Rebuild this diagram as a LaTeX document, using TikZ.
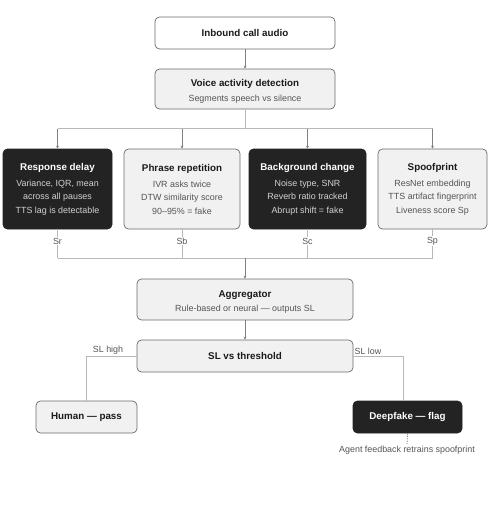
\documentclass[tikz,border=0pt]{standalone}
\usepackage{fontspec}
\setmainfont{Liberation Sans}
\usetikzlibrary{arrows.meta}
\definecolor{darkfill}{HTML}{232323}
\definecolor{lightfill}{HTML}{F1F1F1}
\definecolor{boxline}{HTML}{6B6B6B}
\definecolor{txt}{HTML}{1A1A1A}
\definecolor{subtxt}{HTML}{555555}
\definecolor{darksub}{HTML}{D2D2D2}
\definecolor{conn}{HTML}{808080}
\definecolor{busline}{HTML}{B8B8B8}
\tikzset{
  base/.style={rounded corners=4.5pt, align=center, inner sep=0pt, text=txt,
    font=\fontsize{8.9}{13.5}\selectfont},
  lightbox/.style={base, draw=boxline, line width=0.7pt, fill=lightfill},
  whitebox/.style={base, draw=boxline, line width=0.7pt, fill=white},
  darkbox/.style={base, draw=darkfill, line width=0.7pt, fill=darkfill, text=white},
  arr/.style={draw=conn, line width=0.7pt, -{Stealth[length=3pt,width=3pt]}},
  ln/.style={draw=conn, line width=0.7pt},
  bus/.style={draw=busline, line width=0.7pt},
  lbl/.style={font=\fontsize{8.9}{10}\selectfont, text=subtxt, inner sep=1pt},
}
\newcommand{\ttl}[1]{{\fontsize{9.8}{12}\selectfont\bfseries #1}}
\begin{document}
\begin{tikzpicture}[x=1pt,y=-1pt]
\useasboundingbox (0,0) rectangle (490,512);
% top
\node[whitebox, minimum width=180pt, minimum height=32pt] (in) at (245,33) {\ttl{Inbound call audio}};
\node[lightbox, minimum width=180pt, minimum height=40pt] (vad) at (245,89) {};
\node[base, anchor=center] (vadt) at (245,91.5)
  {\ttl{Voice activity detection}\\[1pt]\textcolor{subtxt}{Segments speech vs silence}};
\draw[arr] (in) -- (vad);
% four boxes
\node[darkbox, minimum width=109pt, minimum height=80pt] (rd) at (57.5,189)
  {\ttl{Response delay}\\[2.5pt]\textcolor{darksub}{Variance, IQR, mean}\\\textcolor{darksub}{across all pauses}\\\textcolor{darksub}{TTS lag is detectable}};
\node[lightbox, minimum width=116pt, minimum height=80pt] (pr) at (182,189)
  {\ttl{Phrase repetition}\\[2.5pt]\textcolor{subtxt}{IVR asks twice}\\\textcolor{subtxt}{DTW similarity score}\\\textcolor{subtxt}{90–95\% = fake}};
\node[darkbox, minimum width=117pt, minimum height=80pt] (bc) at (307.5,189)
  {\ttl{Background change}\\[2.5pt]\textcolor{darksub}{Noise type, SNR}\\\textcolor{darksub}{Reverb ratio tracked}\\\textcolor{darksub}{Abrupt shift = fake}};
\node[lightbox, minimum width=109pt, minimum height=80pt] (sp) at (432.5,189)
  {\ttl{Spoofprint}\\[2.5pt]\textcolor{subtxt}{ResNet embedding}\\\textcolor{subtxt}{TTS artifact fingerprint}\\\textcolor{subtxt}{Liveness score Sp}};
% upper bus
\coordinate (b0) at (245,128.5);
\coordinate (b1) at (57.5,128.5);
\coordinate (b4) at (432.5,128.5);
\draw[bus] (vad.south) -- (b0);
\draw[bus] (b1) -- (b4);
\draw[arr] (b1) -- (rd.north);
\draw[arr] (182,128.5) -- (pr.north);
\draw[arr] (307.5,128.5) -- (bc.north);
\draw[arr] (b4) -- (sp.north);
% aggregator
\node[lightbox, minimum width=216pt, minimum height=41pt] (agg) at (245,299.5) {};
\node[base] (aggt) at (245,302)
  {\ttl{Aggregator}\\[1pt]\textcolor{subtxt}{Rule-based or neural — outputs SL}};
% lower bus
\coordinate (c1) at (57.5,258);
\coordinate (c2) at (182,258);
\coordinate (c3) at (307.5,258);
\coordinate (c4) at (432.5,258);
\coordinate (c0) at (245,258);
\draw[bus] (rd.south) -- (c1);
\draw[bus] (pr.south) -- (c2);
\draw[bus] (bc.south) -- (c3);
\draw[bus] (sp.south) -- (c4);
\draw[bus] (c1) -- (c4);
\node[lbl, fill=white] (lsr) at (57.5,241) {Sr};
\node[lbl, fill=white] (lsb) at (182,241) {Sb};
\node[lbl, fill=white] (lsc) at (307.5,241) {Sc};
\node[lbl, fill=white] (lsp) at (432.5,241) {Sp};
\draw[arr] (c0) -- (agg.north);
% threshold
\node[lightbox, minimum width=216pt, minimum height=32pt] (thr) at (245,356) {\ttl{SL vs threshold}};
\draw[arr] (agg) -- (thr);
% outcomes
\node[lightbox, minimum width=101pt, minimum height=32pt] (hum) at (86.5,417) {\ttl{Human — pass}};
\node[darkbox, minimum width=109pt, minimum height=32pt] (df) at (407.5,417) {\ttl{Deepfake — flag}};
\coordinate (hc) at (86.5,356);
\coordinate (dc) at (403,356);
\draw[bus] (thr.west) -- (hc) -- (hum.north);
\draw[bus] (thr.east) -- (dc) -- (dc|-df.north);
\node[lbl, anchor=south] (slh) at (108,356) {SL high};
\node[lbl, anchor=south] (sll) at (368,356) {SL low};
\node[lbl, anchor=north] (fb) at (407,444.5) {Agent feedback retrains spoofprint};
\draw[draw=conn, line width=0.8pt, dash pattern=on 1.2pt off 1.2pt] (df.south) -- (fb.north);
\end{tikzpicture}
\end{document}
